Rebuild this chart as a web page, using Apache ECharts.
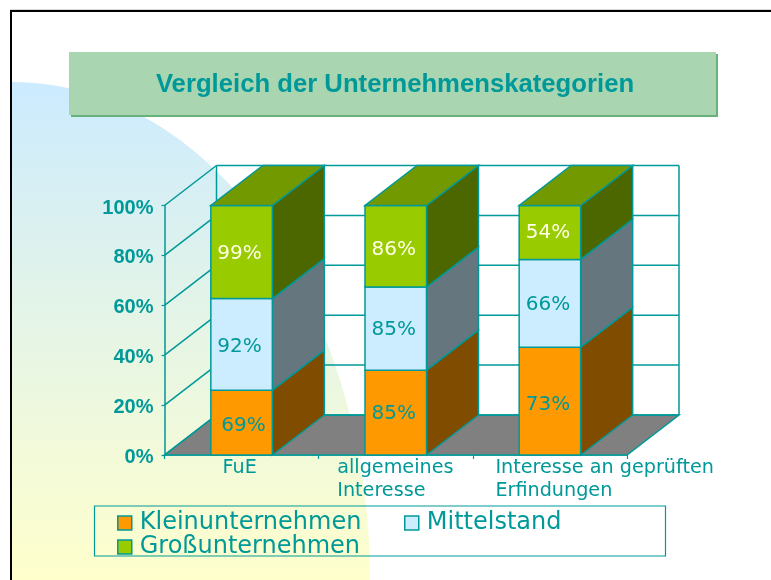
<!DOCTYPE html>
<html><head><meta charset="utf-8">
<style>html,body{margin:0;padding:0;background:#fff}#c{width:771px;height:580px}</style>
<script src="https://cdn.jsdelivr.net/npm/echarts@6/dist/echarts.min.js"></script>
</head><body><div id="c"></div>
<script>
const titleText = 'Vergleich der Unternehmenskategorien';
const categories = ['FuE', 'allgemeines\nInteresse', 'Interesse an geprüften\nErfindungen'];
const yTicks = [0, 20, 40, 60, 80, 100];
const seriesNames = ['Kleinunternehmen', 'Mittelstand', 'Großunternehmen'];
// segment heights (share of the 100 % stack)
const kleinShare = [26, 34, 43.2];
const mittelShare = [36.7, 33.3, 35.2];
const grossShare = [37.3, 32.7, 21.6];
// printed data labels
const kleinLabels = ['69%', '85%', '73%'];
const mittelLabels = ['92%', '85%', '66%'];
const grossLabels = ['99%', '86%', '54%'];
// hand placement of the printed labels, in pixels from the face centre
const labelNudges = [
  [[4, 2], [0, 0], [0, 3]],
  [[0, 1], [0, 0], [0, 0]],
  [[0, 1], [0, 3], [0, -1]]
];

const TEAL = '#009999';
const DX = 52, DY = -40, BAR = 61.5;
const FONT = '"DejaVu Sans"';
const looks = [
  {front: '#FF9900', side: '#7F4C00', top: '#BF7300', text: TEAL},
  {front: '#CCECFF', side: '#66767F', top: '#99B1BF', text: TEAL},
  {front: '#99CC00', side: '#4C6600', top: '#739900', text: '#FFFFE6'}
];
const shares = [kleinShare, mittelShare, grossShare];
const labels = [kleinLabels, mittelLabels, grossLabels];

function wallItem(params, api) {
  const cs = params.coordSys;
  const v = api.value(0);
  const y = api.coord([0, v])[1];
  const xL = cs.x, xR = cs.x + cs.width;
  const line = {stroke: TEAL, lineWidth: 1.5, fill: null};
  const kids = [
    {type: 'line', shape: {x1: xL, y1: y, x2: xL + DX, y2: y + DY}, style: line},
    {type: 'line', shape: {x1: xL + DX, y1: y + DY, x2: xR + DX, y2: y + DY}, style: line}
  ];
  if (v === 0) {
    const yTop = cs.y;
    kids.unshift({type: 'polygon', shape: {points: [[xL, y], [xR, y], [xR + DX, y + DY], [xL + DX, y + DY]]},
      style: {fill: '#808080', stroke: TEAL, lineWidth: 1.5}});
    kids.push({type: 'line', shape: {x1: xL + DX, y1: y + DY, x2: xL + DX, y2: yTop + DY}, style: line});
    kids.push({type: 'line', shape: {x1: xR + DX, y1: y + DY, x2: xR + DX, y2: yTop + DY}, style: line});
  }
  return {type: 'group', children: kids};
}

function barItem(s) {
  return function (params, api) {
    const i = api.value(0);
    const c = api.coord([i, 0])[0];
    const y0 = api.coord([i, api.value(1)])[1];
    const y1 = api.coord([i, api.value(2)])[1];
    const l = c - BAR / 2, r = c + BAR / 2;
    const lk = looks[s];
    const edge = {stroke: TEAL, lineWidth: 1.5};
    const kids = [
      {type: 'polygon', shape: {points: [[r, y0], [r + DX, y0 + DY], [r + DX, y1 + DY], [r, y1]]},
        style: Object.assign({fill: lk.side}, edge)},
      {type: 'rect', shape: {x: l, y: y1, width: BAR, height: y0 - y1},
        style: Object.assign({fill: lk.front}, edge)}
    ];
    if (s === shares.length - 1) {
      kids.push({type: 'polygon', shape: {points: [[l, y1], [r, y1], [r + DX, y1 + DY], [l + DX, y1 + DY]]},
        style: Object.assign({fill: lk.top}, edge)});
    }
    const n = labelNudges[s][i];
    kids.push({type: 'text', style: {text: labels[s][i], x: c - 2 + n[0], y: (y0 + y1) / 2 + 1 + n[1],
      fill: lk.text, font: '400 20px ' + FONT, align: 'center', verticalAlign: 'middle'}});
    return {type: 'group', children: kids};
  };
}

const running = categories.map(() => 0);
const barSeries = seriesNames.map((name, s) => ({
  type: 'custom', name, coordinateSystem: 'cartesian2d', clip: false, z: 4 + s,
  itemStyle: {color: looks[s].front},
  encode: {x: 0, y: [1, 2]},
  renderItem: barItem(s),
  data: categories.map((_, i) => {
    const from = running[i];
    running[i] += shares[s][i];
    return [i, from, running[i]];
  })
}));

const labelWidths = [38, 117, 109];
const chart = echarts.init(document.getElementById('c'), null, {renderer: 'canvas'});
const legendBase = {
  padding: 0, icon: 'rect', itemWidth: 14, itemHeight: 14,
  textStyle: {color: TEAL, fontFamily: FONT, fontSize: 24, lineHeight: 19, padding: [4, 0, 0, 3]},
  itemStyle: {borderColor: TEAL, borderWidth: 1.5},
  selectedMode: false
};
chart.setOption({
  animation: false,
  backgroundColor: '#fff',
  title: {
    text: titleText, left: 390, top: 67, textAlign: 'center',
    textStyle: {color: TEAL, fontFamily: '"Liberation Sans"', fontSize: 25.7, fontWeight: 'bold'}
  },
  grid: {left: 164.5, right: 144, top: 205.5, bottom: 125, containLabel: false},
  xAxis: {
    type: 'category', data: categories,
    axisLine: {lineStyle: {color: TEAL, width: 1.5}},
    axisTick: {show: true, length: 4, lineStyle: {color: TEAL, width: 1.2}},
    axisLabel: {
      interval: 0, margin: 2, hideOverlap: false,
      formatter: (v, i) => v.split('\n').map(t => '{c' + i + '|' + t + '}').join('\n'),
      rich: Object.fromEntries(labelWidths.map((w, i) => ['c' + i,
        {width: w, align: 'left', color: TEAL, fontFamily: FONT, fontSize: 19.2, lineHeight: 23}]))
    }
  },
  yAxis: {
    type: 'value', min: yTicks[0], max: yTicks[yTicks.length - 1], interval: yTicks[1] - yTicks[0],
    axisLine: {show: true, lineStyle: {color: TEAL, width: 1.5}},
    axisTick: {show: true, length: 3, lineStyle: {color: TEAL, width: 1.2}},
    axisLabel: {margin: 11, formatter: v => '{a|' + v + '%}', padding: [5, 0, 0, 0],
      rich: {a: {color: TEAL, fontFamily: '"Liberation Sans"', fontWeight: 'bold', fontSize: 20}}},
    splitLine: {show: false}
  },
  legend: [
    Object.assign({}, legendBase, {left: 117, top: 511, orient: 'vertical', itemGap: 0,
      data: [seriesNames[0], seriesNames[2]]}),
    Object.assign({}, legendBase, {left: 404, top: 511, orient: 'vertical',
      data: [seriesNames[1]]})
  ],
  graphic: [
    {type: 'ellipse', z: -10, silent: true, shape: {cx: 12, cy: 580, rx: 358, ry: 498},
      style: {fill: new echarts.graphic.LinearGradient(0, 82, 0, 580, [
        {offset: 0, color: '#CCEBFF'}, {offset: 1, color: '#FFFFCC'}], true)}},
    {type: 'rect', z: -9, silent: true, shape: {x: 0, y: 0, width: 10, height: 580}, style: {fill: '#fff'}},
    {type: 'rect', z: -8, silent: true, shape: {x: 10, y: 10, width: 761, height: 2}, style: {fill: '#000'}},
    {type: 'rect', z: -8, silent: true, shape: {x: 10, y: 10, width: 2, height: 570}, style: {fill: '#000'}},
    {type: 'rect', z: -8, silent: true, shape: {x: 10, y: 9, width: 761, height: 1}, style: {fill: '#d8d8d8'}},
    {type: 'rect', z: -7, silent: true, shape: {x: 71, y: 54, width: 647, height: 63}, style: {fill: '#66B27A'}},
    {type: 'rect', z: -6, silent: true, shape: {x: 69, y: 52, width: 647, height: 63}, style: {fill: '#A9D5B1'}},
    {type: 'rect', z: -5, silent: true, shape: {x: 94.5, y: 506, width: 571, height: 50},
      style: {fill: null, stroke: TEAL, lineWidth: 1.2}}
  ],
  series: [{
    type: 'custom', name: 'wall', coordinateSystem: 'cartesian2d', clip: false, z: 1,
    silent: true, encode: {y: 0}, renderItem: wallItem, data: yTicks.map(v => [v])
  }].concat(barSeries)
});
</script></body></html>
